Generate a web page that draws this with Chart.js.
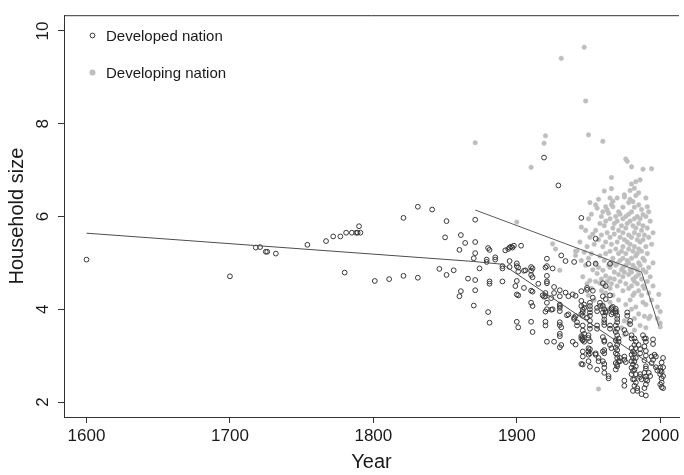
<!DOCTYPE html>
<html>
<head>
<meta charset="utf-8">
<script src="https://cdn.jsdelivr.net/npm/chart.js@4.4.1/dist/chart.umd.min.js"></script>
<style>
  html, body { margin: 0; padding: 0; background: #fff; overflow: hidden; }
</style>
</head>
<body>
<canvas id="household" width="684" height="475"></canvas>
<script>
const yearTicks = [1600, 1700, 1800, 1900, 2000]
const sizeTicks = [2, 4, 6, 8, 10]

// [year, household size]
const developed = [
  [1600,5.07],[1700,4.71],[1718,5.33],[1721,5.34],[1725,5.24],[1726,5.24],[1732,5.20],[1754,5.39],
  [1767,5.47],[1772,5.57],[1777,5.57],[1780,4.79],[1781,5.65],[1785,5.65],[1788,5.65],[1789,5.65],
  [1791,5.65],[1790,5.79],[1801,4.61],[1811,4.65],[1821,5.97],[1821,4.72],[1831,6.21],[1831,4.68],
  [1841,6.15],[1846,4.87],[1850,5.55],[1851,5.90],[1851,4.74],[1856,4.84],[1860,4.28],[1861,4.39],
  [1860,5.28],[1861,5.60],[1864,5.43],[1866,4.66],[1870,4.08],[1871,5.93],[1871,5.45],[1871,5.21],
  [1870,5.10],[1871,4.63],[1871,4.41],[1874,4.88],[1879,5.02],[1879,5.07],[1880,5.32],[1881,5.28],
  [1880,3.94],[1881,3.71],[1881,4.60],[1881,4.55],[1885,5.12],[1885,5.07],[1890,4.93],[1890,4.88],
  [1890,4.60],[1892,5.27],[1894,5.30],[1895,5.33],[1896,5.35],[1898,5.37],[1897,5.33],[1895,5.04],
  [1895,4.91],[1899,4.50],
  [1900,4.99],[1900,4.93],[1900,4.32],[1901,4.30],[1900,3.73],[1901,3.61],[1900,4.61],[1901,4.90],
  [1901,4.81],[1903,5.37],[1905,4.83],[1905,4.46],[1906,4.84],[1910,4.91],[1910,4.83],[1910,4.74],
  [1911,4.69],[1910,4.40],[1911,4.38],[1910,4.14],[1911,4.07],[1910,3.73],[1911,3.51],[1911,4.88],
  [1915,4.55],[1918,4.30],[1919,4.27],[1920,4.90],[1921,4.72],[1921,4.60],[1921,4.56],[1920,4.35],
  [1920,4.28],[1921,4.14],[1921,4.00],[1920,3.95],[1920,3.73],[1920,3.65],[1921,3.30],[1921,5.09],
  [1921,4.93],[1919,7.27],[1924,3.99],[1924,4.24],[1925,4.88],[1925,4.00],[1926,4.48],[1926,4.35],
  [1926,3.30],[1929,6.67],[1930,3.18],[1930,4.41],[1930,4.28],[1930,4.10],[1930,4.07],[1930,4.03],
  [1930,3.96],[1930,3.72],[1930,3.66],[1931,3.61],[1930,3.47],[1930,3.42],[1931,3.23],[1931,5.16],
  [1934,4.36],[1934,5.04],[1935,3.87],[1936,4.28],[1936,3.89],[1939,4.32],[1939,3.30],[1940,3.79],
  [1940,3.82],[1941,3.85],[1941,3.24],[1940,5.02],[1941,4.29],[1942,3.72],[1942,3.65],
  [1945,4.39],[1945,4.18],[1945,4.07],[1946,3.99],[1946,3.94],[1945,3.90],[1946,3.86],[1946,3.65],
  [1945,3.42],[1946,3.40],[1945,3.37],[1946,3.35],[1946,3.33],[1945,5.97],[1945,2.82],[1946,2.81],
  [1947,4.10],[1947,4.03],[1946,3.54],[1947,3.47],[1947,3.30],[1946,3.09],[1946,2.98],[1949,4.42],
  [1949,4.46],[1949,3.82],[1950,4.98],[1951,4.14],[1951,4.07],[1951,4.00],[1951,3.93],[1951,3.86],
  [1951,3.75],[1950,3.44],[1950,3.38],[1951,3.31],[1950,3.16],[1951,3.14],[1950,3.09],[1951,3.05],
  [1950,3.02],[1950,2.88],[1951,2.76],[1951,3.65],[1951,3.58],[1953,4.40],[1953,4.25],[1955,5.52],
  [1955,4.98],[1955,3.02],[1955,3.05],[1956,3.96],[1956,4.03],[1956,3.65],[1956,3.58],[1956,2.70],
  [1957,2.95],[1957,2.88],[1958,4.14],[1958,4.07],
  [1960,4.56],[1960,4.28],[1960,4.07],[1961,4.00],[1960,3.93],[1961,3.86],[1961,3.78],[1961,3.72],
  [1961,3.66],[1960,3.40],[1961,3.33],[1961,3.30],[1961,3.12],[1960,3.09],[1961,3.05],[1960,2.88],
  [1961,2.82],[1961,2.74],[1961,2.63],[1962,3.96],[1962,3.93],[1962,4.50],[1962,4.22],[1964,2.56],
  [1964,2.51],[1965,4.98],[1965,3.65],[1965,3.58],[1965,3.23],[1966,3.16],[1965,4.30],[1966,4.03],
  [1966,4.00],[1967,3.93],[1966,3.89],[1967,4.05],[1969,4.01],[1969,3.96],[1969,3.92],[1969,3.65],
  [1970,3.58],[1969,3.51],[1970,3.44],[1969,3.33],[1970,3.23],[1969,3.17],[1970,3.12],[1969,3.05],
  [1970,3.02],[1969,2.84],[1970,2.77],[1969,2.70],[1970,3.86],[1970,3.79],[1970,3.72],[1971,3.37],
  [1971,3.30],[1970,2.95],[1971,2.88],[1970,2.81],[1972,2.95],[1972,2.88],
  [1975,2.98],[1975,2.91],[1976,2.86],[1975,2.46],[1975,2.35],[1975,3.55],[1976,3.48],[1977,3.93],
  [1977,3.86],[1979,3.68],[1979,3.75],[1980,3.44],[1980,3.37],[1980,3.16],[1981,3.09],[1980,3.02],
  [1981,2.95],[1980,2.88],[1981,2.81],[1980,2.74],[1981,2.67],[1980,2.60],[1981,2.49],[1981,2.24],
  [1982,3.37],[1983,3.30],[1982,3.23],[1983,3.16],[1982,3.05],[1983,2.95],[1982,2.88],[1983,2.77],
  [1982,2.70],[1983,2.60],[1982,2.49],[1983,2.42],[1982,2.35],[1984,2.24],[1984,2.30],[1985,3.23],
  [1986,3.14],[1986,3.05],[1986,2.60],[1986,2.54],[1987,2.49],[1987,2.17],[1988,3.44],[1989,3.37],
  [1990,3.37],[1990,3.30],[1989,3.20],[1990,3.10],[1990,3.00],[1989,2.90],[1990,2.77],[1990,2.72],
  [1989,2.63],[1990,2.55],[1990,2.49],[1991,2.46],[1990,2.38],[1989,2.30],[1990,2.14],[1992,2.63],
  [1993,2.56],[1994,2.98],[1995,2.91],[1994,2.84],[1995,3.35],[1995,3.25],[1996,3.02],[1997,2.98],
  [1997,2.75],[1998,2.68],[2000,2.74],[2000,2.67],[2000,2.60],[2001,2.51],[2001,2.42],[2000,2.38],
  [2001,2.32],[2002,2.95],[2001,2.85],[2002,2.75],[2001,2.65],[2002,2.56],[2002,2.30]
]

const developing = [
  [1871,7.59],[1900,5.88],[1910,7.06],[1919,7.58],[1920,7.74],[1931,9.41],[1925,5.41],[1927,5.30],
  [1930,4.84],[1941,5.25],[1941,5.16],[1942,5.26],
  [1945,5.77],[1944,5.45],[1945,5.05],[1946,4.70],[1947,9.65],[1947,5.23],[1948,8.49],[1948,5.70],
  [1949,5.35],[1948,4.95],[1949,4.55],[1950,7.76],[1951,6.30],[1950,5.95],[1951,5.55],[1950,5.10],
  [1951,4.62],[1950,4.30],[1952,6.05],[1953,5.62],[1952,5.20],[1953,4.85],[1952,4.45],
  [1955,6.25],[1956,6.18],[1955,5.70],[1954,5.40],[1955,5.00],[1956,4.77],[1955,4.60],[1954,4.20],
  [1957,6.37],[1958,5.85],[1957,5.50],[1958,5.15],[1957,4.90],[1958,4.56],[1957,2.28],
  [1959,6.00],[1959,5.60],[1959,4.65],[1959,4.40],
  [1960,7.62],[1961,6.55],[1960,6.10],[1961,5.80],[1960,5.35],[1961,5.05],[1960,4.84],[1961,4.50],
  [1960,4.10],[1962,6.21],[1962,5.90],[1962,5.45],[1962,5.20],[1962,4.72],[1962,4.35],
  [1963,6.14],[1964,6.07],[1963,5.65],[1964,4.95],[1963,4.60],[1964,4.00],
  [1965,6.40],[1965,5.95],[1965,5.55],[1965,5.25],[1965,4.90],[1965,4.67],[1965,4.45],[1965,4.15],
  [1966,6.84],[1966,6.60],[1967,6.33],[1966,6.26],[1967,5.75],[1966,5.40],[1967,5.00],[1966,4.55],
  [1967,6.21],[1968,5.85],[1967,5.10],[1968,4.80],[1967,4.30],
  [1969,6.00],[1968,5.62],[1969,5.30],[1969,4.95],[1968,4.65],[1968,3.55],[1969,3.35],
  [1970,6.40],[1971,6.10],[1970,5.90],[1971,5.70],[1970,5.45],[1971,5.20],[1970,4.98],[1971,4.75],
  [1970,4.50],[1971,4.20],[1970,3.95],
  [1972,6.05],[1973,5.80],[1972,5.55],[1973,5.25],[1972,5.05],[1973,4.85],[1972,4.60],[1973,3.60],
  [1974,6.20],[1974,5.95],[1974,5.65],[1974,5.35],[1974,5.10],[1974,4.90],[1974,4.70],[1974,4.40],
  [1975,6.47],[1975,6.42],[1975,5.50],[1975,4.80],[1975,3.75],[1975,3.45],
  [1976,7.24],[1976,6.00],[1976,5.75],[1976,5.20],[1976,4.95],[1976,4.55],[1976,4.10],
  [1977,7.19],[1977,5.85],[1977,5.45],[1977,5.05],
  [1978,6.30],[1978,6.05],[1978,5.60],[1978,5.30],[1978,5.00],[1978,4.75],[1978,4.45],[1978,3.70],
  [1979,6.56],[1979,6.37],[1979,5.90],[1979,5.40],[1979,4.85],[1979,4.20],
  [1980,7.07],[1980,6.70],[1981,6.32],[1980,6.10],[1981,5.80],[1980,5.55],[1981,5.25],[1980,5.10],
  [1981,4.95],[1980,4.80],[1981,4.65],[1980,4.50],[1981,4.30],[1980,4.00],
  [1982,6.61],[1982,6.20],[1982,5.95],[1982,5.65],[1982,5.35],[1982,4.90],[1982,4.60],[1982,4.35],
  [1982,3.80],[1982,3.55],
  [1983,6.75],[1983,6.45],[1983,5.75],[1983,5.15],[1983,4.70],[1983,4.05],
  [1984,6.00],[1984,5.50],[1984,5.20],[1984,4.85],[1984,4.55],
  [1985,6.51],[1985,6.25],[1985,5.85],[1985,5.60],[1985,5.30],[1985,5.00],[1985,4.75],[1985,4.40],
  [1985,3.90],[1986,6.79],[1986,5.95],[1986,5.45],[1986,4.95],[1986,3.65],
  [1987,6.15],[1987,5.70],[1987,5.25],[1987,4.65],[1987,4.30],
  [1988,7.02],[1988,6.04],[1988,5.80],[1988,5.50],[1988,5.10],[1988,4.85],[1988,4.50],[1988,4.15],
  [1990,6.40],[1990,6.00],[1989,5.60],[1990,5.35],[1989,5.05],[1990,4.80],[1989,4.45],[1990,4.10],
  [1989,3.85],[1990,3.60],[1991,6.21],[1991,5.75],[1991,5.20],[1991,4.60],
  [1992,6.10],[1992,5.55],[1992,4.90],[1992,4.35],[1992,3.80],
  [1994,7.03],[1993,5.90],[1994,5.40],[1993,4.70],[1994,4.20],[1993,3.85],
  [1995,5.65],[1995,5.00],[1995,4.50],[1998,4.05],[1998,3.80],[1999,4.32],[2000,3.95],[2000,3.70],
  [2000,3.62]
]

// piecewise fitted trends
const developedFit = [[1600,5.64],[1870,5.03],[1890,4.97],[2000,2.68]]
const developingFit = [[1871,6.14],[1987,4.80],[1999,3.64]]

const toXY = pts => pts.map(p => ({ x: p[0], y: p[1] }))
const FONT = '"Liberation Sans", Arial, Helvetica, sans-serif'
const INK = '#1a1a1a'

// top edge of the box (the two axes draw left and bottom)
const frame = {
  id: 'frame',
  afterDraw(chart) {
    const { ctx, chartArea: a } = chart
    ctx.save()
    ctx.strokeStyle = '#333'
    ctx.lineWidth = 1
    ctx.beginPath()
    ctx.moveTo(a.left, a.top + 0.5)
    ctx.lineTo(a.right, a.top + 0.5)
    ctx.stroke()
    ctx.restore()
  }
}

// legend inside the plot, top-left, like legend() in R
const insetLegend = {
  id: 'insetLegend',
  afterDraw(chart) {
    const { ctx } = chart
    const rows = chart.data.datasets.filter(d => !d.showLine)
    ctx.save()
    ctx.font = '15px ' + FONT
    ctx.textBaseline = 'middle'
    rows.forEach((d, i) => {
      const y = 35.5 + i * 37
      ctx.beginPath()
      ctx.arc(92.5, y, i === 0 ? 2.4 : 3, 0, Math.PI * 2)
      if (i === 0) {
        ctx.strokeStyle = d.borderColor
        ctx.lineWidth = 1
        ctx.stroke()
      } else {
        ctx.fillStyle = d.backgroundColor
        ctx.fill()
      }
      ctx.fillStyle = INK
      ctx.fillText(d.label, 106, y + 1)
    })
    ctx.restore()
  }
}

const config = {
  type: 'scatter',
  data: {
    datasets: [
      {
        label: 'Developed nation',
        data: toXY(developed),
        pointRadius: 2.4,
        borderWidth: 1,
        borderColor: '#383838',
        backgroundColor: 'rgba(255,255,255,0)',
        order: 1,
      },
      {
        label: 'Developing nation',
        data: toXY(developing),
        pointRadius: 2.3,
        borderWidth: 0.5,
        borderColor: '#bebebe',
        backgroundColor: '#bebebe',
        order: 2,
      },
      {
        label: 'Developed trend',
        data: toXY(developedFit),
        showLine: true,
        pointRadius: 0,
        borderColor: '#4d4d4d',
        borderWidth: 1,
        order: 0,
      },
      {
        label: 'Developing trend',
        data: toXY(developingFit),
        showLine: true,
        pointRadius: 0,
        borderColor: '#5a5a5a',
        borderWidth: 1,
        order: 0,
      },
    ],
  },
  options: {
    responsive: false,
    animation: false,
    devicePixelRatio: 1,
    layout: { padding: { top: 5, right: 0, bottom: 0, left: 0 } },
    plugins: {
      legend: { display: false },
      tooltip: { enabled: false },
    },
    scales: {
      x: {
        type: 'linear',
        position: 'bottom',
        min: 1584.3,
        max: 2013.1,
        afterBuildTicks: s => { s.ticks = yearTicks.map(v => ({ value: v })) },
        afterFit: s => { s.height = 58 },
        ticks: {
          autoSkip: false,
          maxRotation: 0,
          padding: 3,
          color: INK,
          font: { family: FONT, size: 17 },
          callback: v => String(v),
        },
        grid: { drawOnChartArea: false, tickLength: 6, tickColor: '#333', color: '#333' },
        border: { color: '#333', width: 1 },
        title: {
          display: true,
          text: 'Year',
          color: INK,
          font: { family: FONT, size: 20 },
          padding: { top: 0, bottom: 1 },
        },
      },
      y: {
        type: 'linear',
        min: 1.677,
        max: 10.34,
        afterBuildTicks: s => { s.ticks = sizeTicks.map(v => ({ value: v })) },
        afterFit: s => { s.width = 64 },
        ticks: {
          autoSkip: false,
          minRotation: 90,
          maxRotation: 90,
          crossAlign: 'center',
          padding: 5,
          color: INK,
          font: { family: FONT, size: 17 },
          callback: v => String(v),
        },
        grid: { drawOnChartArea: false, tickLength: 6, tickColor: '#333', color: '#333' },
        border: { color: '#333', width: 1 },
        title: {
          display: true,
          text: 'Household size',
          color: INK,
          font: { family: FONT, size: 20 },
          padding: { top: 5, bottom: 0 },
        },
      },
    },
  },
  plugins: [frame, insetLegend],
}

const householdChart = document.getElementById('household')
window.myScatter = new Chart(householdChart, config)
</script>
</body>
</html>
